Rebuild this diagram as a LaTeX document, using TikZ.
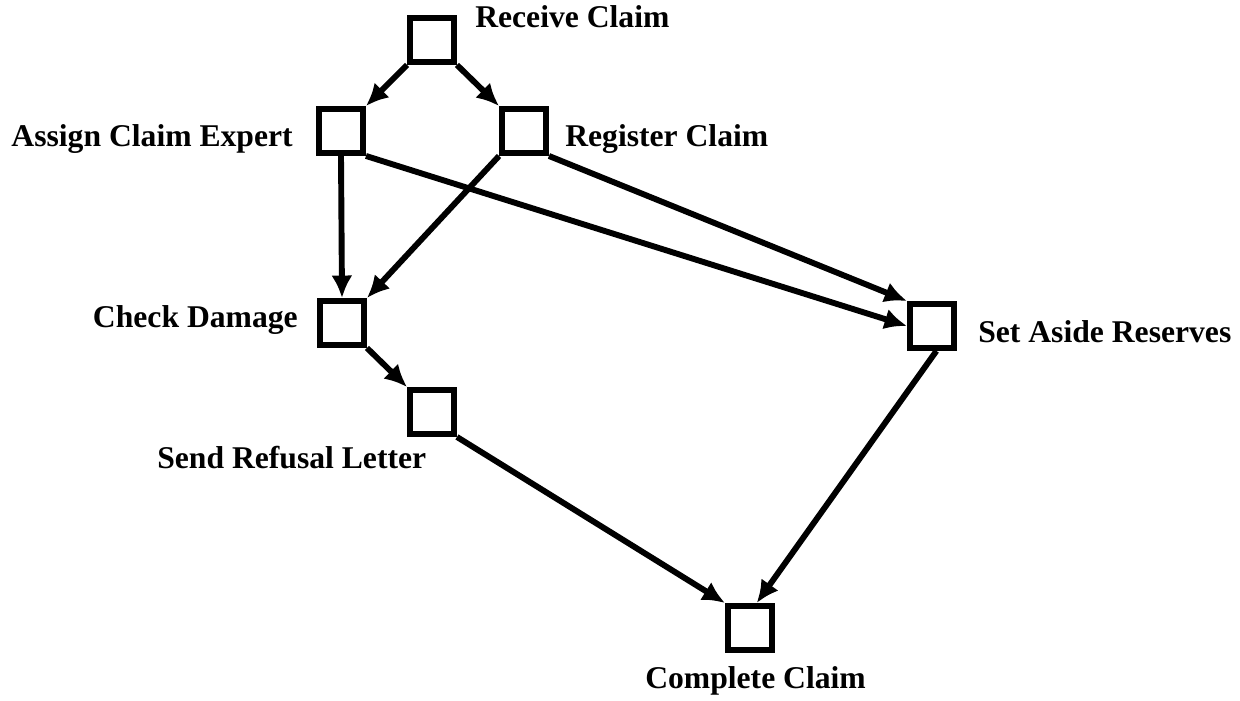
\documentclass[tikz,border=0pt]{standalone}
\usepackage{fontspec}
\setmainfont{Liberation Serif}
\usetikzlibrary{arrows.meta,positioning}

\begin{document}
\begin{tikzpicture}[x=0.025cm,y=-0.025cm,>={Latex[length=16pt,width=15pt]},
  task/.style={draw=black,line width=4.2pt,minimum size=1.1cm,inner sep=0pt},
  lbl/.style={font=\fontsize{22.5}{27}\selectfont\bfseries,inner sep=0pt},
  flow/.style={->,line width=4.2pt}]
\useasboundingbox (0,0) rectangle (1240,701);
% activities
\node[task] (rc) at (432,40) {};
\node[task] (ae) at (341,131) {};
\node[task] (rg) at (524,131) {};
\node[task] (cd) at (342,323) {};
\node[task] (sr) at (432,412) {};
\node[task] (sa) at (932,326) {};
\node[task] (cc) at (750,628) {};
% names
\node[lbl,anchor=base west] (rcl) at (475,28) {Receive Claim};
\node[lbl,anchor=base east] (ael) at (293,147) {Assign Claim Expert};
\node[lbl,anchor=base west] (rgl) at (565,147) {Register Claim};
\node[lbl,anchor=base east] (cdl) at (298,327) {Check Damage};
\node[lbl,anchor=base west] (sal) at (978,343) {Set Aside Reserves};
\node[lbl,anchor=base west] (srl) at (157,468) {Send Refusal Letter};
\node[lbl,anchor=base west] (ccl) at (645,688) {Complete Claim};
% ordering
\draw[flow] (rc.south west) -- (ae.north east);
\draw[flow] (rc.south east) -- (rg.north west);
\draw[flow] (ae.south) -- (cd.north);
\draw[flow] (ae.south east) -- (sa.west);
\draw[flow] (rg.south west) -- (cd.north east);
\draw[flow] (rg.south east) -- (sa.north west);
\draw[flow] (cd.south east) -- (sr.north west);
\draw[flow] (sr.south east) -- (cc.north west);
\draw[flow] (sa.-80) -- (cc.75);
\end{tikzpicture}
\end{document}
